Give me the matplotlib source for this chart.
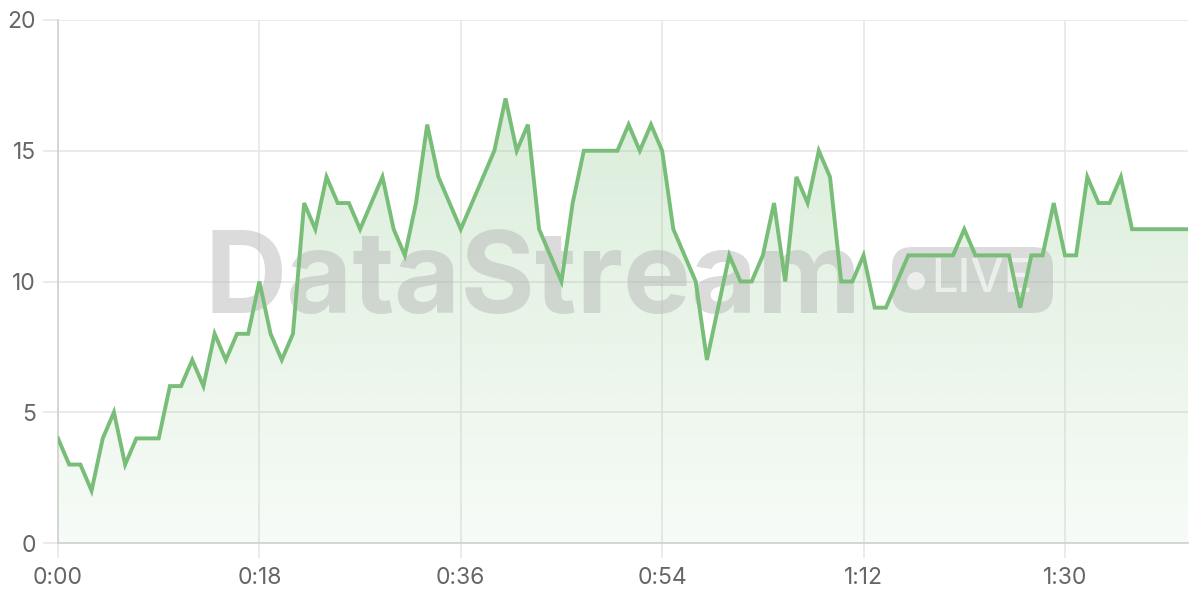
import numpy as np
import matplotlib
matplotlib.use("Agg")
import matplotlib.pyplot as plt
from matplotlib.patches import FancyBboxPatch, Circle, Polygon
from matplotlib.transforms import IdentityTransform

# one reading per second, 0:00 .. 1:41
seconds = list(range(102))
values = [4, 3, 3, 2, 4, 5, 3, 4, 4, 4,
          6, 6, 7, 6, 8, 7, 8, 8, 10, 8,
          7, 8, 13, 12, 14, 13, 13, 12, 13, 14,
          12, 11, 13, 16, 14, 13, 12, 13, 14, 15,
          17, 15, 16, 12, 11, 10, 13, 15, 15, 15,
          15, 16, 15, 16, 15, 12, 11, 10, 7, 9,
          11, 10, 10, 11, 13, 10, 14, 13, 15, 14,
          10, 10, 11, 9, 9, 10, 11, 11, 11, 11,
          11, 12, 11, 11, 11, 11, 9, 11, 11, 13,
          11, 11, 14, 13, 13, 14, 12, 12, 12, 12,
          12, 12]
x_ticks = [0, 18, 36, 54, 72, 90]
x_labels = ["0:00", "0:18", "0:36", "0:54", "1:12", "1:30"]
y_ticks = [0, 5, 10, 15, 20]

W, H = 1200, 600
line_color = "#78bd78"
grid_color = "#e8e8e8"
text_color = "#666666"

fig = plt.figure(figsize=(12, 6), dpi=100)
ax = fig.add_axes([58 / W, 1 - 543 / H, (1188 - 58) / W, (543 - 20) / H])

ax.set_xlim(0, seconds[-1])
ax.set_ylim(0, 20)

# gradient fill under the line
top = max(values)
grad = np.zeros((256, 2, 4))
grad[..., 0] = 120 / 255
grad[..., 1] = 190 / 255
grad[..., 2] = 120 / 255
grad[..., 3] = np.linspace(0.27, 0.06, 256)[:, None]
img = ax.imshow(grad, extent=[0, seconds[-1], 0, top], origin="upper",
                aspect="auto", zorder=1, interpolation="bilinear")
verts = [(seconds[0], 0)] + list(zip(seconds, values)) + [(seconds[-1], 0)]
poly = Polygon(verts, closed=True, facecolor="none", edgecolor="none")
ax.add_patch(poly)
img.set_clip_path(poly)

ax.plot(seconds, values, color=line_color, lw=2.8, zorder=5,
        solid_joinstyle="miter")

# watermark in pixel coordinates (between fill and line)
def px(x, y):
    return x, H - y

wm_kw = dict(transform=IdentityTransform(), zorder=3, clip_on=False)
ax.text(*px(205, 283), "DataStream", fontsize=82, fontweight="bold",
        family="Inter", color="#b8b8b8", alpha=0.5, ha="left", va="center",
        **wm_kw)
pill = FancyBboxPatch(px(892, 313), 161, 66,
                      boxstyle="round,pad=0,rounding_size=20",
                      facecolor="#b8b8b8", edgecolor="none", alpha=0.5,
                      **wm_kw)
ax.add_patch(pill)
ax.add_patch(Circle(px(916, 281), 9, facecolor="white", edgecolor="none",
                    alpha=0.6, **wm_kw))
ax.text(*px(931, 280), "LIVE", fontsize=34, family="Inter",
        fontweight="medium", color="white", alpha=0.6,
        ha="left", va="center", **wm_kw)

# axes styling
ax.set_xticks(x_ticks)
ax.set_xticklabels(x_labels)
ax.set_yticks(y_ticks)
ax.grid(True, color=grid_color, lw=1.2, zorder=0)
ax.set_axisbelow(True)
for s in ["top", "right"]:
    ax.spines[s].set_visible(False)
for s in ["left", "bottom"]:
    ax.spines[s].set_color("#d0d0d0")
    ax.spines[s].set_linewidth(1.2)
ax.tick_params(axis="both", colors=grid_color, labelcolor=text_color,
               labelsize=16.5, length=11, width=1.2)
ax.tick_params(axis="x", pad=6)
ax.tick_params(axis="y", pad=5)
for lab in ax.get_xticklabels() + ax.get_yticklabels():
    lab.set_family("Inter")

fig.savefig("out.png", dpi=100)
